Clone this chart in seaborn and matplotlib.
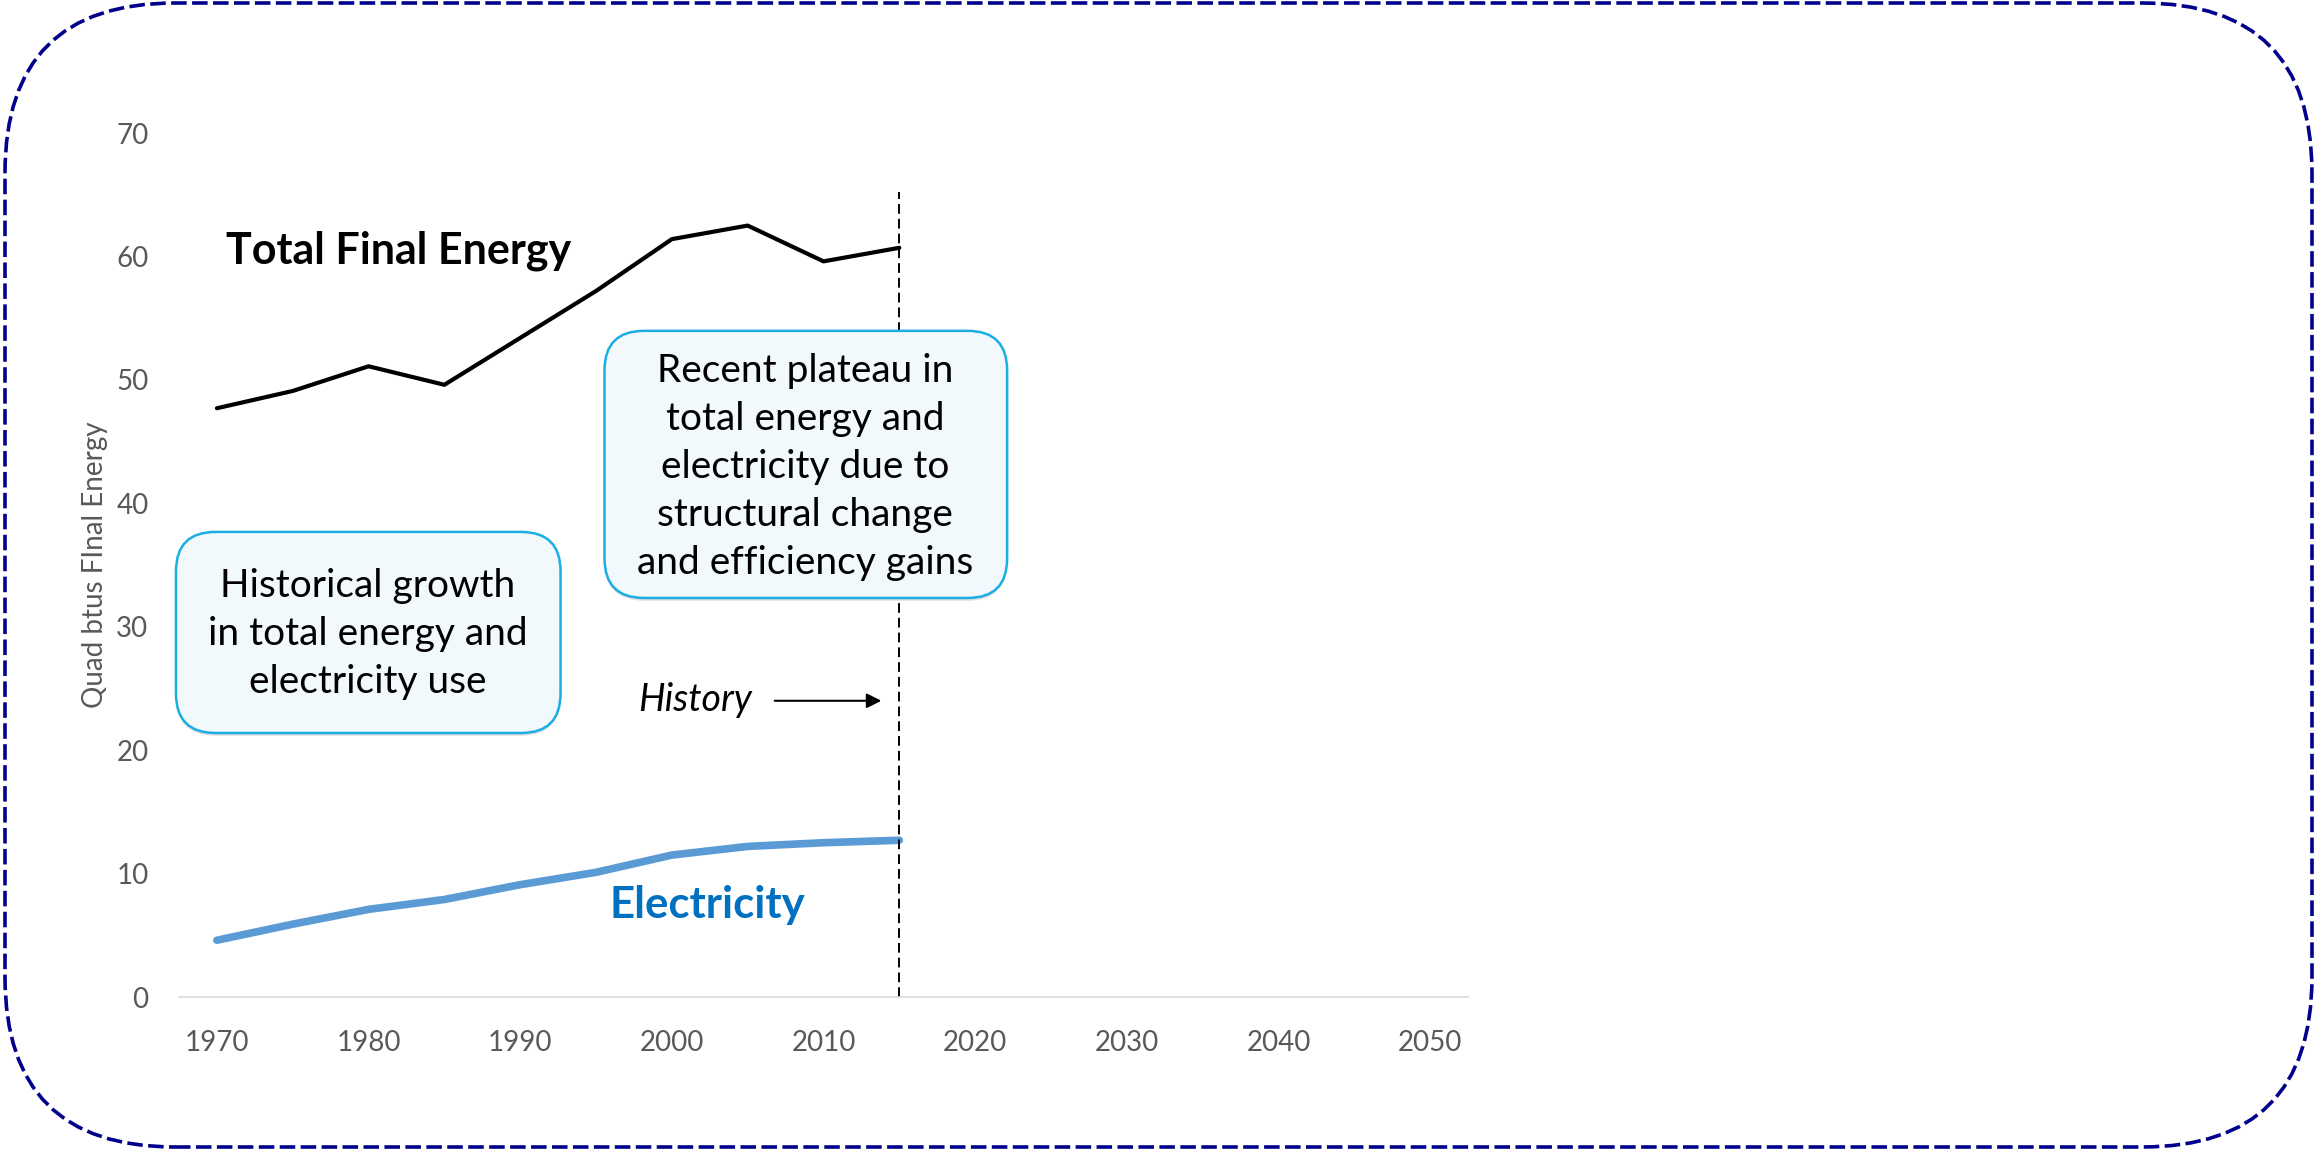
import matplotlib
matplotlib.use("Agg")
import matplotlib.pyplot as plt
import pandas as pd
import seaborn as sns
from matplotlib import patheffects
from matplotlib.patches import FancyBboxPatch

# Chart data.
years = [1970, 1975, 1980, 1985, 1990, 1995, 2000, 2005, 2010, 2015]
total_final = [47.7, 49.1, 51.1, 49.6, 53.4, 57.2, 61.4, 62.5, 59.6, 60.7]
electricity = [4.6, 5.9, 7.1, 7.9, 9.1, 10.1, 11.5, 12.2, 12.5, 12.7]
x_ticks = [1970, 1980, 1990, 2000, 2010, 2020, 2030, 2040, 2050]
y_ticks = [0, 10, 20, 30, 40, 50, 60, 70]
history_end = 2015

box_left = "Historical growth\nin total energy and\nelectricity use"
box_right = ("Recent plateau in\ntotal energy and\nelectricity due to\n"
             "structural change\nand efficiency gains")

W, H, DPI = 2315, 1149, 100

sns.set_theme(style="white")
plt.rcParams["font.family"] = ["Lato", "DejaVu Sans"]

fig = plt.figure(figsize=(W / DPI, H / DPI), dpi=DPI)
ax = fig.add_axes([179 / W, 1 - 997 / H, 1289 / W, 864 / H])

df = pd.DataFrame({"year": years, "total": total_final, "elec": electricity})
sns.lineplot(data=df, x="year", y="total", color="black", lw=3, ax=ax)
sns.lineplot(data=df, x="year", y="elec", color="#5B9BD5", lw=5.5, ax=ax)

ax.set_xlim(1967.5, 2052.5)
ax.set_ylim(0, 70)
ax.set_xticks(x_ticks)
ax.set_yticks(y_ticks)
ax.tick_params(axis="both", length=0, labelsize=20, labelcolor="#595959")
ax.tick_params(axis="x", pad=24)
ax.tick_params(axis="y", pad=22)
for side in ["top", "right", "left"]:
    ax.spines[side].set_visible(False)
ax.spines["bottom"].set_color("#D9D9D9")
ax.spines["bottom"].set_linewidth(1.2)
ax.set_xlabel("")
ax.set_ylabel("Quad btus FInal Energy", fontsize=20, color="#595959", labelpad=6)

# History marker.
ax.axvline(history_end, ymin=0, ymax=65.2 / 70, color="black", lw=1.4,
           ls=(0, (5, 2.6)))

# Series labels.
ax.text(1970.6, 60.5, "Total Final Energy", fontsize=31, fontweight="bold",
        color="black", ha="left", va="center")
ax.text(2002.35, 7.45, "Electricity", fontsize=31.5, fontweight="bold",
        color="#0070C0", ha="center", va="center")

# Callout boxes.
aspect = 15.18 / 12.34
shadow = [patheffects.SimplePatchShadow(offset=(0, -2), alpha=0.25,
                                        shadow_rgbFace="#7F7F7F"),
          patheffects.Normal()]
for (x0, x1, y0, y1), txt, cx, cy in [
    ((1967.3, 1992.66, 21.39, 37.68), box_left, 1979.95, 29.4),
    ((1995.56, 2022.11, 32.33, 53.97), box_right, 2008.8, 42.95),
]:
    box = FancyBboxPatch((x0, y0), x1 - x0, y1 - y0,
                         boxstyle="round,pad=0,rounding_size=2.6",
                         mutation_aspect=aspect, facecolor="#F2F9FD",
                         edgecolor="#1CADE4", lw=1.8, clip_on=False, zorder=4)
    box.set_path_effects(shadow)
    ax.add_patch(box)
    ax.text(cx, cy, txt, fontsize=28, color="black", ha="center",
            va="center", linespacing=1.42, zorder=5)

ax.text(2001.5, 24.07, "History", fontsize=27, fontstyle="italic",
        color="black", ha="center", va="center")
ax.annotate("", xy=(2014.0, 24.0), xytext=(2006.6, 24.0),
            arrowprops=dict(arrowstyle="-|>", color="black", lw=1.5,
                            mutation_scale=22))

# Dashed rounded frame around the whole picture.
frame = FancyBboxPatch((0.05, 0.02), 23.07, 11.44,
                       boxstyle="round,pad=0,rounding_size=1.7",
                       transform=fig.dpi_scale_trans, facecolor="none",
                       edgecolor="#00008B", lw=2.6, ls=(0, (4.3, 1.5)))
fig.add_artist(frame)

fig.savefig("out.png", dpi=DPI)
